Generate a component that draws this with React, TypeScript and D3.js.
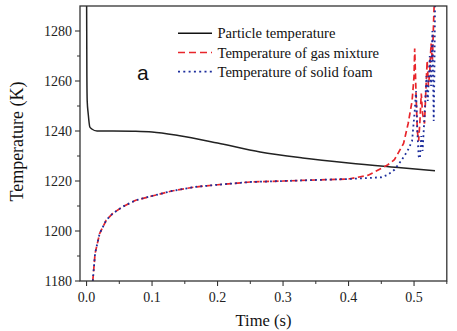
import React from "react";
import * as d3 from "d3";

const particleTime = [0, 0.0005, 0.001, 0.0025, 0.005, 0.008, 0.016, 0.04, 0.07, 0.1, 0.14, 0.2, 0.265, 0.33, 0.4, 0.48, 0.532];
const particleTemp = [1300, 1262, 1252, 1247, 1241.6, 1240.8, 1240, 1240, 1239.9, 1239.6, 1238.2, 1235.2, 1231.6, 1229.2, 1227.2, 1225.3, 1224.1];

const gasTime = [0.0095, 0.013, 0.02, 0.03, 0.04, 0.055, 0.075, 0.1, 0.13, 0.165, 0.2, 0.25, 0.3, 0.35, 0.4, 0.43, 0.45, 0.46, 0.47, 0.484, 0.491, 0.497, 0.5, 0.501, 0.503, 0.505, 0.507, 0.509, 0.511, 0.513, 0.516, 0.518, 0.52, 0.522, 0.524, 0.526, 0.528, 0.53, 0.532];
const gasTemp = [1180, 1191, 1199, 1204.3, 1207, 1209.7, 1212.3, 1214, 1216, 1217.6, 1218.5, 1219.6, 1220, 1220.4, 1220.8, 1222.3, 1225, 1226.5, 1228.5, 1235, 1243, 1252, 1262, 1273, 1255, 1240, 1236, 1244, 1255, 1247, 1243, 1256, 1268, 1258, 1264, 1275, 1268, 1285, 1300];

const foamTime = [0.0095, 0.013, 0.02, 0.03, 0.04, 0.055, 0.075, 0.1, 0.13, 0.165, 0.2, 0.25, 0.3, 0.35, 0.4, 0.43, 0.45, 0.46, 0.47, 0.48, 0.49, 0.497, 0.501, 0.503, 0.505, 0.507, 0.509, 0.511, 0.513, 0.516, 0.519, 0.521, 0.524, 0.526, 0.528, 0.529, 0.53, 0.531, 0.532, 0.533];
const foamTemp = [1180, 1191, 1199, 1204.3, 1207, 1209.7, 1212.3, 1214, 1216, 1217.6, 1218.5, 1219.6, 1220, 1220.4, 1220.8, 1221.2, 1221.5, 1222.5, 1224.5, 1228, 1232, 1236, 1248, 1256, 1240, 1230, 1229, 1238, 1232, 1246, 1262, 1252, 1270, 1258, 1280, 1262, 1244, 1262, 1290, 1300];

const xTicks = [0.0, 0.1, 0.2, 0.3, 0.4, 0.5];
const xMinorTicks = [0.05, 0.15, 0.25, 0.35, 0.45, 0.55];
const yTicks = [1180, 1200, 1220, 1240, 1260, 1280];
const yMinorTicks = [1190, 1210, 1230, 1250, 1270];

const legendLabels = ["Particle temperature", "Temperature of gas mixture", "Temperature of solid foam"];

const W = 457, H = 331;
const left = 80, right = 446.8, top = 6, bottom = 281;

export default function App() {
  const x = d3.scaleLinear().domain([-0.01, 0.55]).range([left, right]);
  const y = d3.scaleLinear().domain([1180, 1290]).range([bottom, top]);

  const mk = (ts: number[], vs: number[], smooth = false) => {
    const l = d3.line<number>().x((_, i) => x(ts[i])).y((v) => y(v));
    if (smooth) l.curve(d3.curveMonotoneX);
    return l(vs) || "";
  };

  const serif = "'Liberation Serif', 'Times New Roman', serif";
  const legendStyles = [
    { stroke: "#111", dash: undefined as string | undefined, w: 1.5 },
    { stroke: "#e8252b", dash: "7,4", w: 1.7 },
    { stroke: "#1c2d9c", dash: "2,3.3", w: 1.8 },
  ];

  return (
    <svg width={W} height={H} style={{ position: "absolute", left: 0, top: 0, background: "#fff" }}>
      <defs>
        <clipPath id="plot">
          <rect x={left} y={top} width={right - left} height={bottom - top} />
        </clipPath>
      </defs>
      <g clipPath="url(#plot)" fill="none">
        <path d={mk(particleTime, particleTemp, true)} stroke="#222" strokeWidth={1.5} />
        <path d={mk(gasTime, gasTemp)} stroke="#e8252b" strokeWidth={1.7} strokeDasharray="6,3.5" />
        <path d={mk(foamTime, foamTemp)} stroke="#1c2d9c" strokeWidth={1.8} strokeDasharray="1.8,3.2" />
      </g>
      <rect x={left} y={top} width={right - left} height={bottom - top} fill="none" stroke="#333" strokeWidth={1.3} />
      {yTicks.map((t) => (
        <g key={"y" + t}>
          <line x1={left - 5} x2={left} y1={y(t)} y2={y(t)} stroke="#333" strokeWidth={1.1} />
          <text x={left - 8} y={y(t) + 5} textAnchor="end" fontFamily={serif} fontSize={14} fill="#222">{t}</text>
        </g>
      ))}
      {yMinorTicks.map((t) => (
        <line key={"ym" + t} x1={left - 3} x2={left} y1={y(t)} y2={y(t)} stroke="#333" strokeWidth={1} />
      ))}
      {xTicks.map((t) => (
        <g key={"x" + t}>
          <line x1={x(t)} x2={x(t)} y1={bottom} y2={bottom + 5} stroke="#333" strokeWidth={1.1} />
          <text x={x(t)} y={bottom + 20.5} textAnchor="middle" fontFamily={serif} fontSize={14} fill="#222">{t.toFixed(1)}</text>
        </g>
      ))}
      {xMinorTicks.map((t) => (
        <line key={"xm" + t} x1={x(t)} x2={x(t)} y1={bottom} y2={bottom + 3} stroke="#333" strokeWidth={1} />
      ))}
      <text x={263.5} y={325.5} textAnchor="middle" fontFamily={serif} fontSize={16.5} fill="#111">Time (s)</text>
      <text transform={`translate(22.5,${141.5}) rotate(-90)`} textAnchor="middle" fontFamily={serif} fontSize={18} fill="#111">Temperature (K)</text>
      <text x={137} y={79.5} fontFamily="'Liberation Sans', Arial, sans-serif" fontSize={21} fill="#111">a</text>
      {legendLabels.map((lab, i) => {
        const ly = 33.3 + i * 19.2;
        const s = legendStyles[i];
        return (
          <g key={lab}>
            <line x1={178} x2={212} y1={ly} y2={ly} stroke={s.stroke} strokeWidth={s.w} strokeDasharray={s.dash} />
            <text x={217.5} y={ly + 5} fontFamily={serif} fontSize={14.6} fill="#111">{lab}</text>
          </g>
        );
      })}
    </svg>
  );
}
